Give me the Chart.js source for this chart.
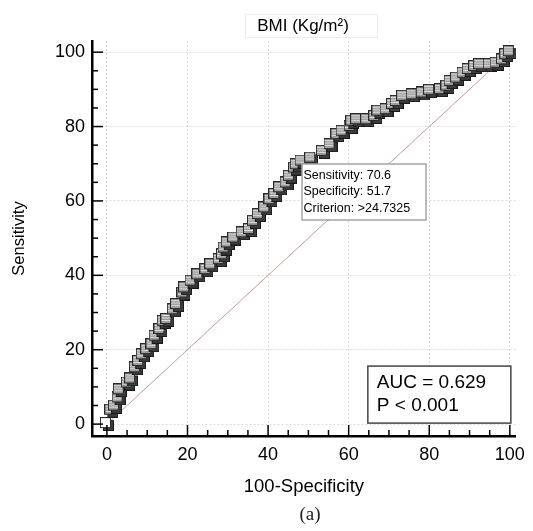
<!DOCTYPE html>
<html>
<head>
<meta charset="utf-8">
<script src="https://cdn.jsdelivr.net/npm/chart.js@4"></script>
<style>
  html, body { margin: 0; padding: 0; background: #fff; }
  #wrap { width: 533px; height: 531px; position: relative; }
</style>
</head>
<body>
<div id="wrap"><canvas id="roc"></canvas></div>
<script>
// ROC curve points: x = 100-Specificity, y = Sensitivity
const fpr = [0, 1.1, 2, 2.9, 3.2, 5.2, 6, 7.2, 8, 8.9, 10, 11.3, 12.1, 13.3, 14.1, 15, 16.6, 17.4, 19, 19.4,
  21, 22.7, 24.7, 25.9, 28, 28.8, 29.2, 30, 31.6, 33.7, 35.5, 36.5, 37.7, 39.3, 40.6, 41.8, 43, 44.6, 45.4, 46.7,
  47.1, 48.3, 50.7, 53.6, 55.5, 57.2, 58.5, 60.5, 60.9, 62.1, 64.6, 66.6, 67.4, 69.4, 71, 71.9, 73.5, 75.9, 78.4, 80.2,
  82.9, 84.5, 85.3, 86.9, 88.5, 89.8, 91.4, 92.6, 95, 96.7, 98.3, 99.1, 100];
const tpr = [0, 3.6, 4.7, 6.9, 9.1, 10.9, 12, 15, 16.7, 18.5, 19.9, 21.2, 23.5, 25.3, 27.5, 28, 30.6, 32, 35.1, 36.5,
  38.3, 40, 41.4, 42.7, 44.1, 45.4, 47.2, 48.6, 49.9, 51.3, 52.2, 54.4, 56.2, 58, 60.2, 61.6, 63.4, 64.7, 66.5, 68.7,
  69.6, 70.6, 71.4, 73.2, 75, 77.7, 78.6, 79.9, 81.3, 81.7, 81.7, 82.6, 84, 84.4, 85.8, 86.6, 88, 88.4, 88.9, 89.6,
  89.8, 90.7, 92, 92.9, 94.2, 95.2, 96, 96.5, 96.5, 96.9, 97.8, 99.2, 100];
const diagX = [0, 100];
const diagY = [0, 100];
const tickValues = [0, 20, 40, 60, 80, 100];
const criterionLines = ["Sensitivity: 70.6", "Specificity: 51.7", "Criterion: >24.7325"];
const criterionSens = 70.6;
const criterionSpec = 51.7;
const aucLines = ["AUC = 0.629", "P < 0.001"];

const FONT = "'Liberation Sans', Arial, sans-serif";

// 3D-looking square marker like the original software draws
function makeBox(front) {
  const c = document.createElement("canvas");
  c.width = 14; c.height = 14;
  const g = c.getContext("2d");
  g.fillStyle = "#3c3c3c";
  g.fillRect(3, 3, 10.5, 10.5);
  g.strokeStyle = "#1a1a1a";
  g.lineWidth = 1;
  g.strokeRect(3.5, 3.5, 10, 10);
  g.fillStyle = front;
  g.fillRect(0.5, 0.5, 10, 10);
  if (front !== "#fff") {
    g.strokeStyle = "rgba(235,235,235,0.85)";
    for (let i = 2.5; i < 10; i += 2.5) {
      g.beginPath(); g.moveTo(1, i); g.lineTo(10, i); g.stroke();
    }
  }
  g.strokeStyle = "#2a2a2a";
  g.strokeRect(0.5, 0.5, 10, 10);
  return c;
}
const boxGrey = makeBox("#9c9c9c");
const boxWhite = makeBox("#fff");

const decorations = {
  id: "decorations",
  afterDatasetsDraw(chart) {
    const { ctx, chartArea, scales: { x, y } } = chart;
    ctx.save();
    // inward tick marks, major every 20, minor every 5
    ctx.strokeStyle = "#000";
    ctx.lineWidth = 1.5;
    for (let v = 0; v <= 100; v += 5) {
      const len = v % 20 === 0 ? 11 : 6;
      const px = x.getPixelForValue(v);
      ctx.beginPath(); ctx.moveTo(px, chartArea.bottom); ctx.lineTo(px, chartArea.bottom - len); ctx.stroke();
      const py = y.getPixelForValue(v);
      ctx.beginPath(); ctx.moveTo(chartArea.left, py); ctx.lineTo(chartArea.left + len, py); ctx.stroke();
    }

    // criterion box anchored at the optimal cut-off point
    const bx = x.getPixelForValue(100 - criterionSpec);
    const by = y.getPixelForValue(criterionSens) + 2;
    ctx.fillStyle = "#fff";
    ctx.fillRect(bx, by, 124, 56);
    ctx.strokeStyle = "#777";
    ctx.lineWidth = 1;
    ctx.strokeRect(bx + 0.5, by + 0.5, 124, 56);
    ctx.fillStyle = "#000";
    ctx.font = "12.5px " + FONT;
    ctx.textBaseline = "middle";
    ctx.textAlign = "left";
    criterionLines.forEach((t, i) => ctx.fillText(t, bx + 2, by + 12 + i * 16.5));

    // AUC box in the lower right corner
    const ar = x.getPixelForValue(100) + 1;
    const ab = y.getPixelForValue(0) - 1;
    const aw = 143, ah = 57;
    ctx.fillStyle = "#fff";
    ctx.fillRect(ar - aw, ab - ah, aw, ah);
    ctx.strokeStyle = "#444";
    ctx.lineWidth = 1.5;
    ctx.strokeRect(ar - aw, ab - ah, aw, ah);
    ctx.fillStyle = "#000";
    ctx.font = "19px " + FONT;
    aucLines.forEach((t, i) => ctx.fillText(t, ar - aw + 9, ab - ah + 17 + i * 23));
    ctx.restore();
  },
  afterDraw(chart) {
    const { ctx } = chart;
    ctx.save();
    // title with its faint frame
    ctx.strokeStyle = "#ececec";
    ctx.lineWidth = 1;
    ctx.strokeRect(245.5, 14.5, 132, 23);
    ctx.fillStyle = "#000";
    ctx.font = "17px " + FONT;
    ctx.textAlign = "center";
    ctx.textBaseline = "middle";
    ctx.fillText("BMI (Kg/m\u00B2)", 303, 26);
    // panel label
    ctx.fillStyle = "#222";
    ctx.font = "19px 'Liberation Serif', 'DejaVu Serif', serif";
    ctx.fillText("(a)", 310, 515);
    ctx.restore();
  }
};

const axisTicks = scale => { scale.ticks = tickValues.map(v => ({ value: v })); };

new Chart(document.getElementById("roc"), {
  type: "scatter",
  data: {
    datasets: [
      {
        label: "ROC",
        data: fpr.map((v, i) => ({ x: v, y: tpr[i] })),
        pointStyle: ctx => ctx.dataIndex === 0 ? boxWhite : boxGrey,
        showLine: false,
        order: 1
      },
      {
        label: "Reference",
        data: diagX.map((v, i) => ({ x: v, y: diagY[i] })),
        showLine: true,
        borderColor: "#c79a9a",
        borderWidth: 1,
        pointRadius: 0,
        order: 2
      }
    ]
  },
  options: {
    responsive: true,
    maintainAspectRatio: false,
    animation: false,
    layout: { padding: { top: 41, right: 10, bottom: 30, left: 0 } },
    plugins: {
      legend: { display: false },
      tooltip: { enabled: false }
    },
    scales: {
      x: {
        type: "linear",
        min: -3.7,
        max: 101.5,
        afterBuildTicks: axisTicks,
        afterFit: s => { s.height = 65; },
        grid: { color: "rgba(200,185,185,0.55)", lineWidth: 1, drawTicks: false },
        border: { display: true, color: "#000", width: 2.5, dash: [2, 2] },
        ticks: { color: "#000", padding: 8, font: { family: FONT, size: 18 } },
        title: {
          display: true,
          text: "100-Specificity",
          color: "#000",
          font: { family: FONT, size: 18.5 },
          padding: { top: 0, bottom: 3 }
        }
      },
      y: {
        type: "linear",
        min: -3.2,
        max: 103,
        afterBuildTicks: axisTicks,
        afterFit: s => { s.width = 92; },
        grid: { color: "rgba(200,185,185,0.55)", lineWidth: 1, drawTicks: false },
        border: { display: true, color: "#000", width: 2.5, dash: [2, 2] },
        ticks: { color: "#000", padding: 7, font: { family: FONT, size: 18 } },
        title: {
          display: true,
          text: "Sensitivity",
          color: "#000",
          font: { family: FONT, size: 16.5 },
          padding: { top: 10, bottom: 0 }
        }
      }
    }
  },
  plugins: [decorations]
});
</script>
</body>
</html>
